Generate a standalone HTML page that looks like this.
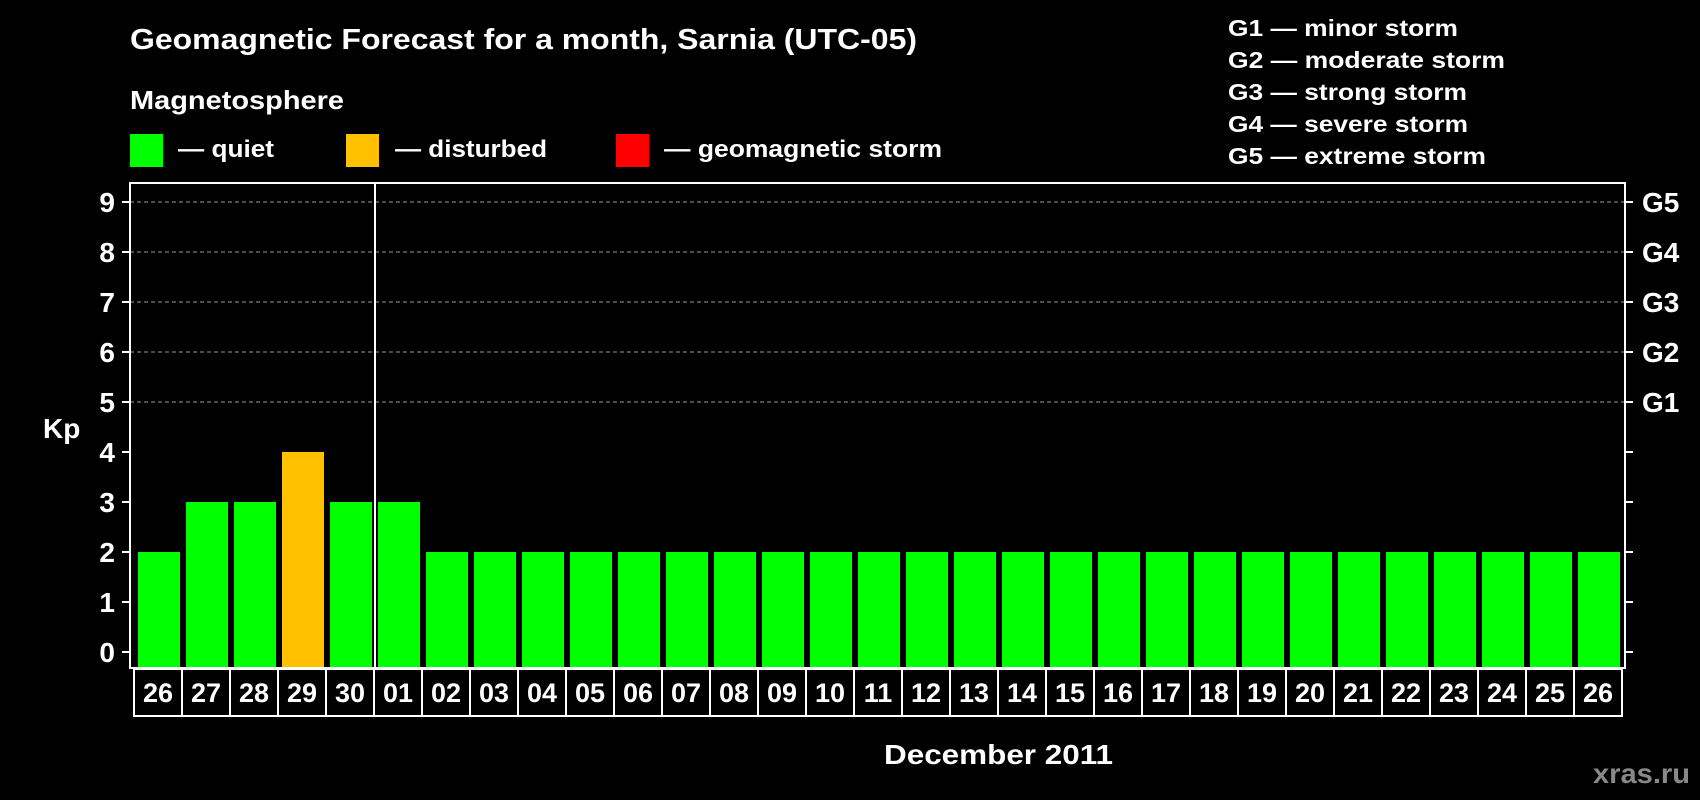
<!DOCTYPE html>
<html><head><meta charset="utf-8"><style>
html,body{margin:0;padding:0;background:#000;}
svg{display:block;font-family:"Liberation Sans",Arial,sans-serif;font-weight:bold;}
</style></head><body>
<svg id="chart" width="1700" height="800" viewBox="0 0 1700 800" xmlns="http://www.w3.org/2000/svg">
<rect width="1700" height="800" fill="#000"/>
<text x="130" y="49" fill="#fff" font-size="29" textLength="787" lengthAdjust="spacingAndGlyphs">Geomagnetic Forecast for a month, Sarnia (UTC-05)</text>
<text x="130" y="109" fill="#fff" font-size="26" textLength="214" lengthAdjust="spacingAndGlyphs">Magnetosphere</text>
<g>
<rect x="130" y="134" width="33" height="33" fill="#00ff00"/>
<text x="178" y="157" fill="#fff" font-size="24" textLength="96" lengthAdjust="spacingAndGlyphs">— quiet</text></g>
<g>
<rect x="346" y="134" width="33" height="33" fill="#ffc000"/>
<text x="395" y="157" fill="#fff" font-size="24" textLength="152" lengthAdjust="spacingAndGlyphs">— disturbed</text></g>
<g>
<rect x="616" y="134" width="33" height="33" fill="#ff0000"/>
<text x="664" y="157" fill="#fff" font-size="24" textLength="278" lengthAdjust="spacingAndGlyphs">— geomagnetic storm</text></g>
<g fill="#fff" font-size="23">
<text x="1228" y="36" textLength="230" lengthAdjust="spacingAndGlyphs">G1 — minor storm</text>
<text x="1228" y="68" textLength="277" lengthAdjust="spacingAndGlyphs">G2 — moderate storm</text>
<text x="1228" y="100" textLength="239" lengthAdjust="spacingAndGlyphs">G3 — strong storm</text>
<text x="1228" y="132" textLength="240" lengthAdjust="spacingAndGlyphs">G4 — severe storm</text>
<text x="1228" y="164" textLength="258" lengthAdjust="spacingAndGlyphs">G5 — extreme storm</text>
</g>
<g id="plot"></g>
<text x="43" y="438" fill="#fff" font-size="28">Kp</text>
<text x="884" y="764" fill="#fff" font-size="28" textLength="229" lengthAdjust="spacingAndGlyphs">December 2011</text>
<text x="1593" y="783" fill="#888" font-size="28" textLength="97" lengthAdjust="spacingAndGlyphs">xras.ru</text>
</svg>
<script>
const days = ["26","27","28","29","30","01","02","03","04","05","06","07","08","09","10","11","12","13","14","15","16","17","18","19","20","21","22","23","24","25","26"];
const kp = [2,3,3,4,3,3,2,2,2,2,2,2,2,2,2,2,2,2,2,2,2,2,2,2,2,2,2,2,2,2,2];
const yTicks = [0,1,2,3,4,5,6,7,8,9];
const gLabels = ["G1","G2","G3","G4","G5"];
const gLevels = [5,6,7,8,9];
const monthStartIndex = 5;

const NS = "http://www.w3.org/2000/svg";
const plot = document.getElementById('plot');
const L = 130, R = 1625, T = 183, B = 668;
const y0 = 652, unit = 50;
const x0 = 138, step = 48, bw = 42;
function yS(v){ return y0 - v*unit; }
function xS(i){ return x0 + i*step; }
function mk(tag, attrs){ const e = document.createElementNS(NS, tag); for (const k in attrs) e.setAttribute(k, attrs[k]); plot.appendChild(e); return e; }
function color(v){ return v >= 5 ? "#ff0000" : (v >= 4 ? "#ffc000" : "#00ff00"); }

// grid
gLevels.forEach((g, i) => {
  const ln = mk('line', {x1:L, x2:R, y1:yS(g), y2:yS(g), stroke:"#999", "stroke-width":1, "stroke-dasharray":"4,3"});
  
  
  const t = mk('text', {x:1642, y:yS(g)+10, fill:"#fff", "font-size":28});
  t.textContent = gLabels[i];
  
  
});
// bars
kp.forEach((v, i) => {
  const r = mk('rect', {x:xS(i), y:yS(v), width:bw, height:B - yS(v), fill:color(v)});
  
  
});
// frame
const fr = mk('rect', {x:L, y:T, width:R-L, height:B-T, fill:"none", stroke:"#fff", "stroke-width":2});


const ms = mk('line', {x1:xS(monthStartIndex)-3, x2:xS(monthStartIndex)-3, y1:T, y2:B, stroke:"#fff", "stroke-width":2});


// y ticks
yTicks.forEach(v => {
  const a = mk('line', {x1:L-8, x2:L, y1:yS(v), y2:yS(v), stroke:"#fff", "stroke-width":2});
  
  
  const b = mk('line', {x1:R, x2:R+8, y1:yS(v), y2:yS(v), stroke:"#fff", "stroke-width":2});
  
  
  const t = mk('text', {x:115, y:yS(v)+10, fill:"#fff", "font-size":28, "text-anchor":"end"});
  t.textContent = v;
  
  
});
// day cells
days.forEach((d, i) => {
  const cx = xS(i) - 4;
  const c = mk('rect', {x:cx, y:669, width:step, height:47, fill:"none", stroke:"#fff", "stroke-width":2});
  
  
  const t = mk('text', {x:cx + step/2, y:702, fill:"#fff", "font-size":27, "text-anchor":"middle"});
  t.textContent = d;
  
  
});
</script>
</body></html>
